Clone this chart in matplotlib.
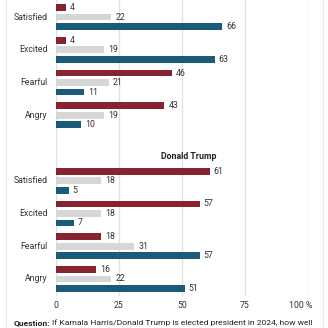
import matplotlib
matplotlib.use("Agg")
import matplotlib.pyplot as plt
from matplotlib.lines import Line2D

plt.rcParams['font.family'] = ['Roboto', 'DejaVu Sans']

emotions = ["Satisfied", "Excited", "Fearful", "Angry"]
panel_titles = ["Kamala Harris", "Donald Trump"]
# values per emotion: red, grey, blue series
harris_red = [4, 4, 46, 43]
harris_grey = [22, 19, 21, 19]
harris_blue = [66, 63, 11, 10]
trump_red = [61, 57, 18, 16]
trump_grey = [18, 18, 31, 22]
trump_blue = [5, 7, 57, 51]
x_ticks = [0, 25, 50, 75, 100]
x_tick_labels = ["0", "25", "50", "75", "100 %"]

RED = "#86232F"
GREY = "#D6D6D6"
BLUE = "#1A5B7A"
TEXT = "#333333"

W, H = 328, 328
fig = plt.figure(figsize=(W / 100, H / 100), dpi=100)
ax = fig.add_axes([56 / W, 1 - 296 / H, (308 - 56) / W, 296 / H])

off = 0.29
bh = 0.21
groups = [(0, harris_red, harris_grey, harris_blue),
          (5, trump_red, trump_grey, trump_blue)]
for start, reds, greys, blues in groups:
    for i, emo in enumerate(emotions):
        y = start + i
        for dy, val, col in ((-off, reds[i], RED), (0, greys[i], GREY), (off, blues[i], BLUE)):
            ax.barh(y + dy, val, height=bh, color=col, zorder=3)
            ax.text(val + 1.6, y + dy, str(val), va="center", ha="left",
                    fontsize=6.3, color=TEXT, zorder=4)
        ax.text(-3.2, y, emo, va="center", ha="right", fontsize=6.3, color=TEXT)

ax.text((189 - 56) / 2.52, 4.25, panel_titles[1], ha="center", va="center",
        fontsize=6.3, fontweight="bold", color="#222222")

ax.set_xlim(0, 100)
ax.set_ylim(8.52, -0.52)
for xt in x_ticks:
    ax.axvline(xt, color="#E2E2E2", lw=1, zorder=0)
ax.set_yticks([])
ax.set_xticks([])
for s in ax.spines.values():
    s.set_visible(False)

for xt, lab in zip(x_ticks, x_tick_labels):
    xf = (56 + xt * 2.52) / W
    if lab.endswith("%"):
        fig.text(xf + 0.012, 1 - 306 / H, lab, ha="right", va="center", fontsize=6.3, color=TEXT)
    else:
        fig.text(xf, 1 - 306 / H, lab, ha="center", va="center", fontsize=6.3, color=TEXT)

# outer frame edges
for xp in (6, 323):
    fig.add_artist(Line2D([xp / W, xp / W], [0, 1], color="#EBEBEB", lw=0.8))

t1 = fig.text(14 / W, 1 - 323 / H, "Question:", ha="left", va="center",
              fontsize=6.1, fontweight="bold", color="#222222")
fig.canvas.draw()
bb = t1.get_window_extent()
fig.text(bb.x1 / W + 0.005, 1 - 323 / H,
         "If Kamala Harris/Donald Trump is elected president in 2024, how well",
         ha="left", va="center", fontsize=6.1, color="#222222")

fig.savefig("out.png", dpi=100)
